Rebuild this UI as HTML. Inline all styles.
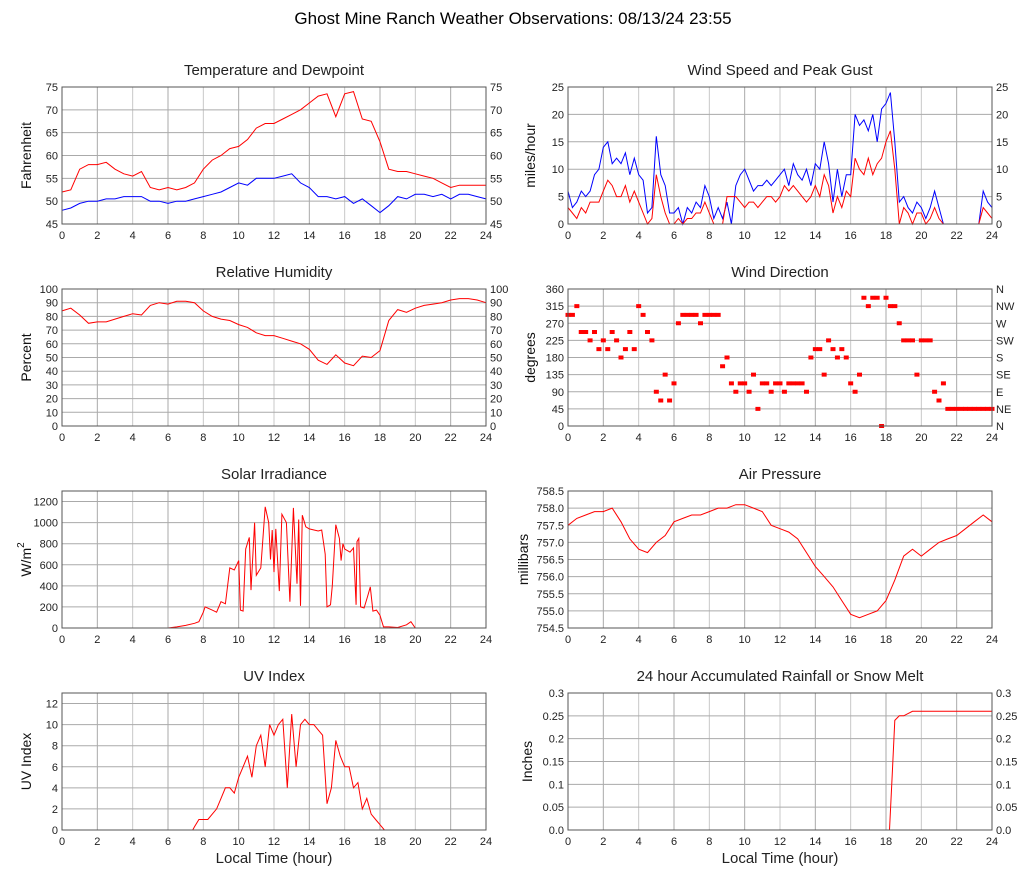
<!DOCTYPE html>
<html><head><meta charset="utf-8"><style>
body{margin:0;background:#fff;}
svg{display:block;font-family:"Liberation Sans",Arial,sans-serif;}
</style></head><body>
<svg id="c" width="1027" height="878" viewBox="0 0 1027 878">
<text x="513" y="24" text-anchor="middle" font-size="17" fill="#000">Ghost Mine Ranch Weather Observations: 08/13/24 23:55</text>
</svg>
<script>
// ---- data ----
const hh = []; for (let i = 0; i <= 48; i++) hh.push(i / 2);
const hq = []; for (let i = 0; i <= 96; i++) hq.push(i / 4);
const tempVals = [52,52.5,57,58,58,58.5,57,56,55.5,56.5,53,52.5,53,52.5,53,54,57,59,60,61.5,62,63.5,66,67,67,68,69,70,71.5,73,73.5,68.5,73.5,74,68,67.5,63,57,56.5,56.5,56,55.5,55,54,53,53.5,53.5,53.5,53.5];
const dewVals = [48,48.5,49.5,50,50,50.5,50.5,51,51,51,50,50,49.5,50,50,50.5,51,51.5,52,53,54,53.5,55,55,55,55.5,56,54,53,51,51,50.5,51,49.5,50.5,49,47.5,49,51,50.5,51.5,51.5,51,51.5,50.5,51.5,51.5,51,50.5];
const rhVals = [84,86,81,75,76,76,78,80,82,81,88,90,89,91,91,90,84,80,78,77,74,72,68,66,66,64,62,60,56,48,45,52,46,44,51,50,55,77,85,83,86,88,89,90,92,93,93,92,90];
const gustVals = [6,3,4,6,5,6,9,10,14,15,11,12,11,13,9,12,9,8,2,3,16,9,7,2,2,3,0,3,2,4,3,7,5,1,3,1,4,0,7,9,10,8,6,7,7,8,7,8,9,10,7,11,9,8,10,7,11,10,15,11,4,10,5,9,9,20,18,19,17,20,15,21,22,24,15,4,5,3,2,4,3,1,3,6,3,0,0,0,0,0,0,0,0,0,6,4,3];
const windVals = [3,2,1,3,2,4,4,4,6,8,7,5,5,7,4,6,4,2,0,1,9,5,2,0,0,1,0,1,1,2,2,4,2,0,0,0,5,5,5,4,3,4,4,3,4,5,5,4,5,7,6,7,6,5,4,5,7,5,9,7,2,5,3,6,5,12,10,9,12,9,11,12,15,17,10,0,3,2,0,2,2,0,1,3,1,0,0,0,0,0,0,0,0,0,3,2,1];
const dirVals = [292,292,315,247,247,225,247,202,225,202,247,225,180,202,247,202,315,292,247,225,90,67,135,67,112,270,292,292,292,292,270,292,292,292,292,157,180,112,90,112,112,90,135,45,112,112,90,112,112,90,112,112,112,112,90,180,202,202,135,225,202,180,202,180,112,90,135,337,315,337,337,0,337,315,315,270,225,225,225,135,225,225,225,90,67,112,45,45,45,45,45,45,45,45,45,45,45,45,45,315,292,270];
const solarHours = [0,6,6.5,7,7.5,7.75,8,8.1,8.5,8.75,9,9.25,9.5,9.75,10,10.1,10.25,10.4,10.6,10.7,10.9,11,11.25,11.5,11.7,11.8,11.9,12,12.1,12.3,12.45,12.7,12.9,13.1,13.3,13.4,13.5,13.6,13.8,14,14.5,14.7,14.9,15,15.2,15.3,15.5,15.7,15.8,15.9,16,16.3,16.5,16.65,16.7,16.8,16.9,17.1,17.3,17.45,17.6,17.8,18,18.2,18.5,19,19.5,19.75,20,24];
const solarVals = [0,0,10,25,45,60,150,200,170,150,250,230,570,550,640,170,160,750,860,360,1000,500,570,1150,1000,650,930,530,940,350,1080,1000,250,1140,420,1030,210,1070,960,940,920,930,700,200,220,400,980,850,640,800,750,720,760,220,820,850,200,190,300,390,160,170,120,10,10,5,30,60,0,0];
const uvHours = [0,7.4,7.5,7.75,8,8.25,8.5,8.75,9,9.25,9.5,9.75,10,10.25,10.5,10.75,11,11.25,11.5,11.75,12,12.25,12.5,12.75,13,13.25,13.5,13.75,14,14.25,14.5,14.75,15,15.25,15.5,15.75,16,16.25,16.5,16.75,17,17.25,17.5,17.75,18,18.25,24];
const uvVals = [0,0,0.3,1,1,1,1.5,2,3,4,4,3.5,5,6,7,5,8,9,6,10,9,10,10.5,4,11,6,10,10.5,10,10,9.5,9,2.5,4,8.5,7,6,6,4,4.5,2,3,1.5,1,0.5,0,0];
const pressVals = [757.5,757.7,757.8,757.9,757.9,758.0,757.6,757.1,756.8,756.7,757.0,757.2,757.6,757.7,757.8,757.8,757.9,758.0,758.0,758.1,758.1,758.0,757.9,757.5,757.4,757.3,757.1,756.7,756.3,756.0,755.7,755.3,754.9,754.8,754.9,755.0,755.3,755.9,756.6,756.8,756.6,756.8,757.0,757.1,757.2,757.4,757.6,757.8,757.6];
const rainHours = [0,18.2,18.35,18.5,18.75,19,19.5,24];
const rainVals = [0,0,0.12,0.24,0.25,0.25,0.26,0.26];
const xTicks = [0,2,4,6,8,10,12,14,16,18,20,22,24];
const compass = ["N","NE","E","SE","S","SW","W","NW","N"];

const svg = document.getElementById('c');
const NS = 'http://www.w3.org/2000/svg';
function mk(tag, attrs, parent) {
  const e = document.createElementNS(NS, tag);
  for (const k in attrs) e.setAttribute(k, attrs[k]);
  (parent || svg).appendChild(e);
  return e;
}
function txt(x, y, s, size, anchor, parent) {
  const t = mk('text', {x: x, y: y, 'font-size': size, 'text-anchor': anchor || 'middle', fill: '#222'}, parent);
  t.textContent = s;
  return t;
}

function panel(o) {
  const g = mk('g', {});
  
  
  const L = o.x, T = o.y, W = 424, H = 137;
  const sx = h => L + h / 24 * W;
  const sy = v => T + H - (v - o.min) / (o.max - o.min) * H;
  xTicks.forEach((h, i) => {
    if (h > 0 && h < 24) mk('line', {x1: sx(h), x2: sx(h), y1: T, y2: T + H, stroke: i % 2 ? '#aaa' : '#c8c8c8', 'stroke-width': 1}, g);
  });
  o.yTicks.forEach(v => {
    mk('line', {x1: L, x2: L + W, y1: sy(v), y2: sy(v), stroke: '#aaa', 'stroke-width': 1}, g);
  });
  xTicks.forEach(h => { txt(sx(h), T + H + 15, String(h), 11, 'middle', g); });
  o.yTicks.forEach((v, i) => {
    txt(L - 4, sy(v) + 4, o.fmt ? o.fmt(v, i) : String(v), 11, 'end', g);
    if (o.right) txt(L + W + 4, sy(v) + 4, o.right(v, i), 11, 'start', g);
  });
  const title = txt(L + W / 2, T - 12, o.title, 15, 'middle', g);
  
  
  const off = o.yoff || 31;
  const yt = mk('text', {x: 0, y: 0, 'font-size': 14, 'text-anchor': 'middle', fill: '#111', transform: 'translate(' + (L - off) + ',' + (T + H / 2) + ') rotate(-90)'}, g);
  
  
  if (o.ylabelHTML) { yt.innerHTML = o.ylabelHTML; } else { yt.textContent = o.ylabel; }
  (o.series || []).forEach(s => {
    let d = '';
    s.xs.forEach((h, i) => { d += (i ? 'L' : 'M') + sx(h).toFixed(1) + ',' + sy(s.ys[i]).toFixed(1); });
    const p = mk('path', {d: d, fill: 'none', stroke: s.color, 'stroke-width': 1}, g);
    
    
  });
  if (o.dots) {
    o.dots.xs.forEach((h, i) => {
      const r = mk('rect', {x: sx(h) - 2.5, y: sy(o.dots.ys[i]) - 2, width: 5, height: 4, fill: '#f00'}, g);
      
      
    });
  }
  mk('rect', {x: L, y: T, width: W, height: H, fill: 'none', stroke: '#555', 'stroke-width': 1}, g);
  if (o.xlabel) {
    const xl = txt(L + W / 2, T + H + 33, 'Local Time (hour)', 15, 'middle', g);
    
    
  }
}
const rng = (a, b, s) => { const r = []; for (let v = a; v <= b + 1e-9; v += s) r.push(+v.toFixed(3)); return r; };

panel({name: 'temperature-panel', title: 'Temperature and Dewpoint', ylabel: 'Fahrenheit', x: 62, y: 87, min: 45, max: 75, yTicks: rng(45, 75, 5), right: v => String(v),
  series: [{name: 'temperature-line', xs: hh, ys: tempVals, color: '#f00'}, {name: 'dewpoint-line', xs: hh, ys: dewVals, color: '#00f'}]});
panel({name: 'wind-speed-panel', title: 'Wind Speed and Peak Gust', ylabel: 'miles/hour', yoff: 33, x: 568, y: 87, min: 0, max: 25, yTicks: rng(0, 25, 5), right: v => String(v),
  series: [{name: 'peak-gust-line', xs: hq, ys: gustVals, color: '#00f'}, {name: 'wind-speed-line', xs: hq, ys: windVals, color: '#f00'}]});
panel({name: 'humidity-panel', title: 'Relative Humidity', ylabel: 'Percent', x: 62, y: 289, min: 0, max: 100, yTicks: rng(0, 100, 10), right: v => String(v),
  series: [{name: 'humidity-line', xs: hh, ys: rhVals, color: '#f00'}]});
panel({name: 'wind-direction-panel', title: 'Wind Direction', ylabel: 'degrees', yoff: 33, x: 568, y: 289, min: 0, max: 360, yTicks: rng(0, 360, 45), right: (v, i) => compass[i],
  dots: {xs: hq, ys: dirVals}});
panel({name: 'solar-panel', title: 'Solar Irradiance', ylabelHTML: 'W/m<tspan dy="-7" font-size="10">2</tspan>', x: 62, y: 491, min: 0, max: 1300, yTicks: rng(0, 1200, 200),
  series: [{name: 'solar-line', xs: solarHours, ys: solarVals, color: '#f00'}]});
panel({name: 'pressure-panel', title: 'Air Pressure', ylabel: 'millibars', yoff: 40, x: 568, y: 491, min: 754.5, max: 758.5, yTicks: rng(754.5, 758.5, 0.5), fmt: v => v.toFixed(1),
  series: [{name: 'pressure-line', xs: hh, ys: pressVals, color: '#f00'}]});
panel({name: 'uv-panel', title: 'UV Index', ylabel: 'UV Index', x: 62, y: 693, min: 0, max: 13, yTicks: rng(0, 12, 2), xlabel: true,
  series: [{name: 'uv-line', xs: uvHours, ys: uvVals, color: '#f00'}]});
panel({name: 'rain-panel', title: '24 hour Accumulated Rainfall or Snow Melt', ylabel: 'Inches', yoff: 36, x: 568, y: 693, min: 0, max: 0.3, yTicks: rng(0, 0.3, 0.05), xlabel: true,
  fmt: v => v === 0 ? '0.0' : String(+v.toFixed(2)), right: v => v === 0 ? '0.0' : String(+v.toFixed(2)),
  series: [{name: 'rain-line', xs: rainHours, ys: rainVals, color: '#f00'}]});
</script>
</body></html>
